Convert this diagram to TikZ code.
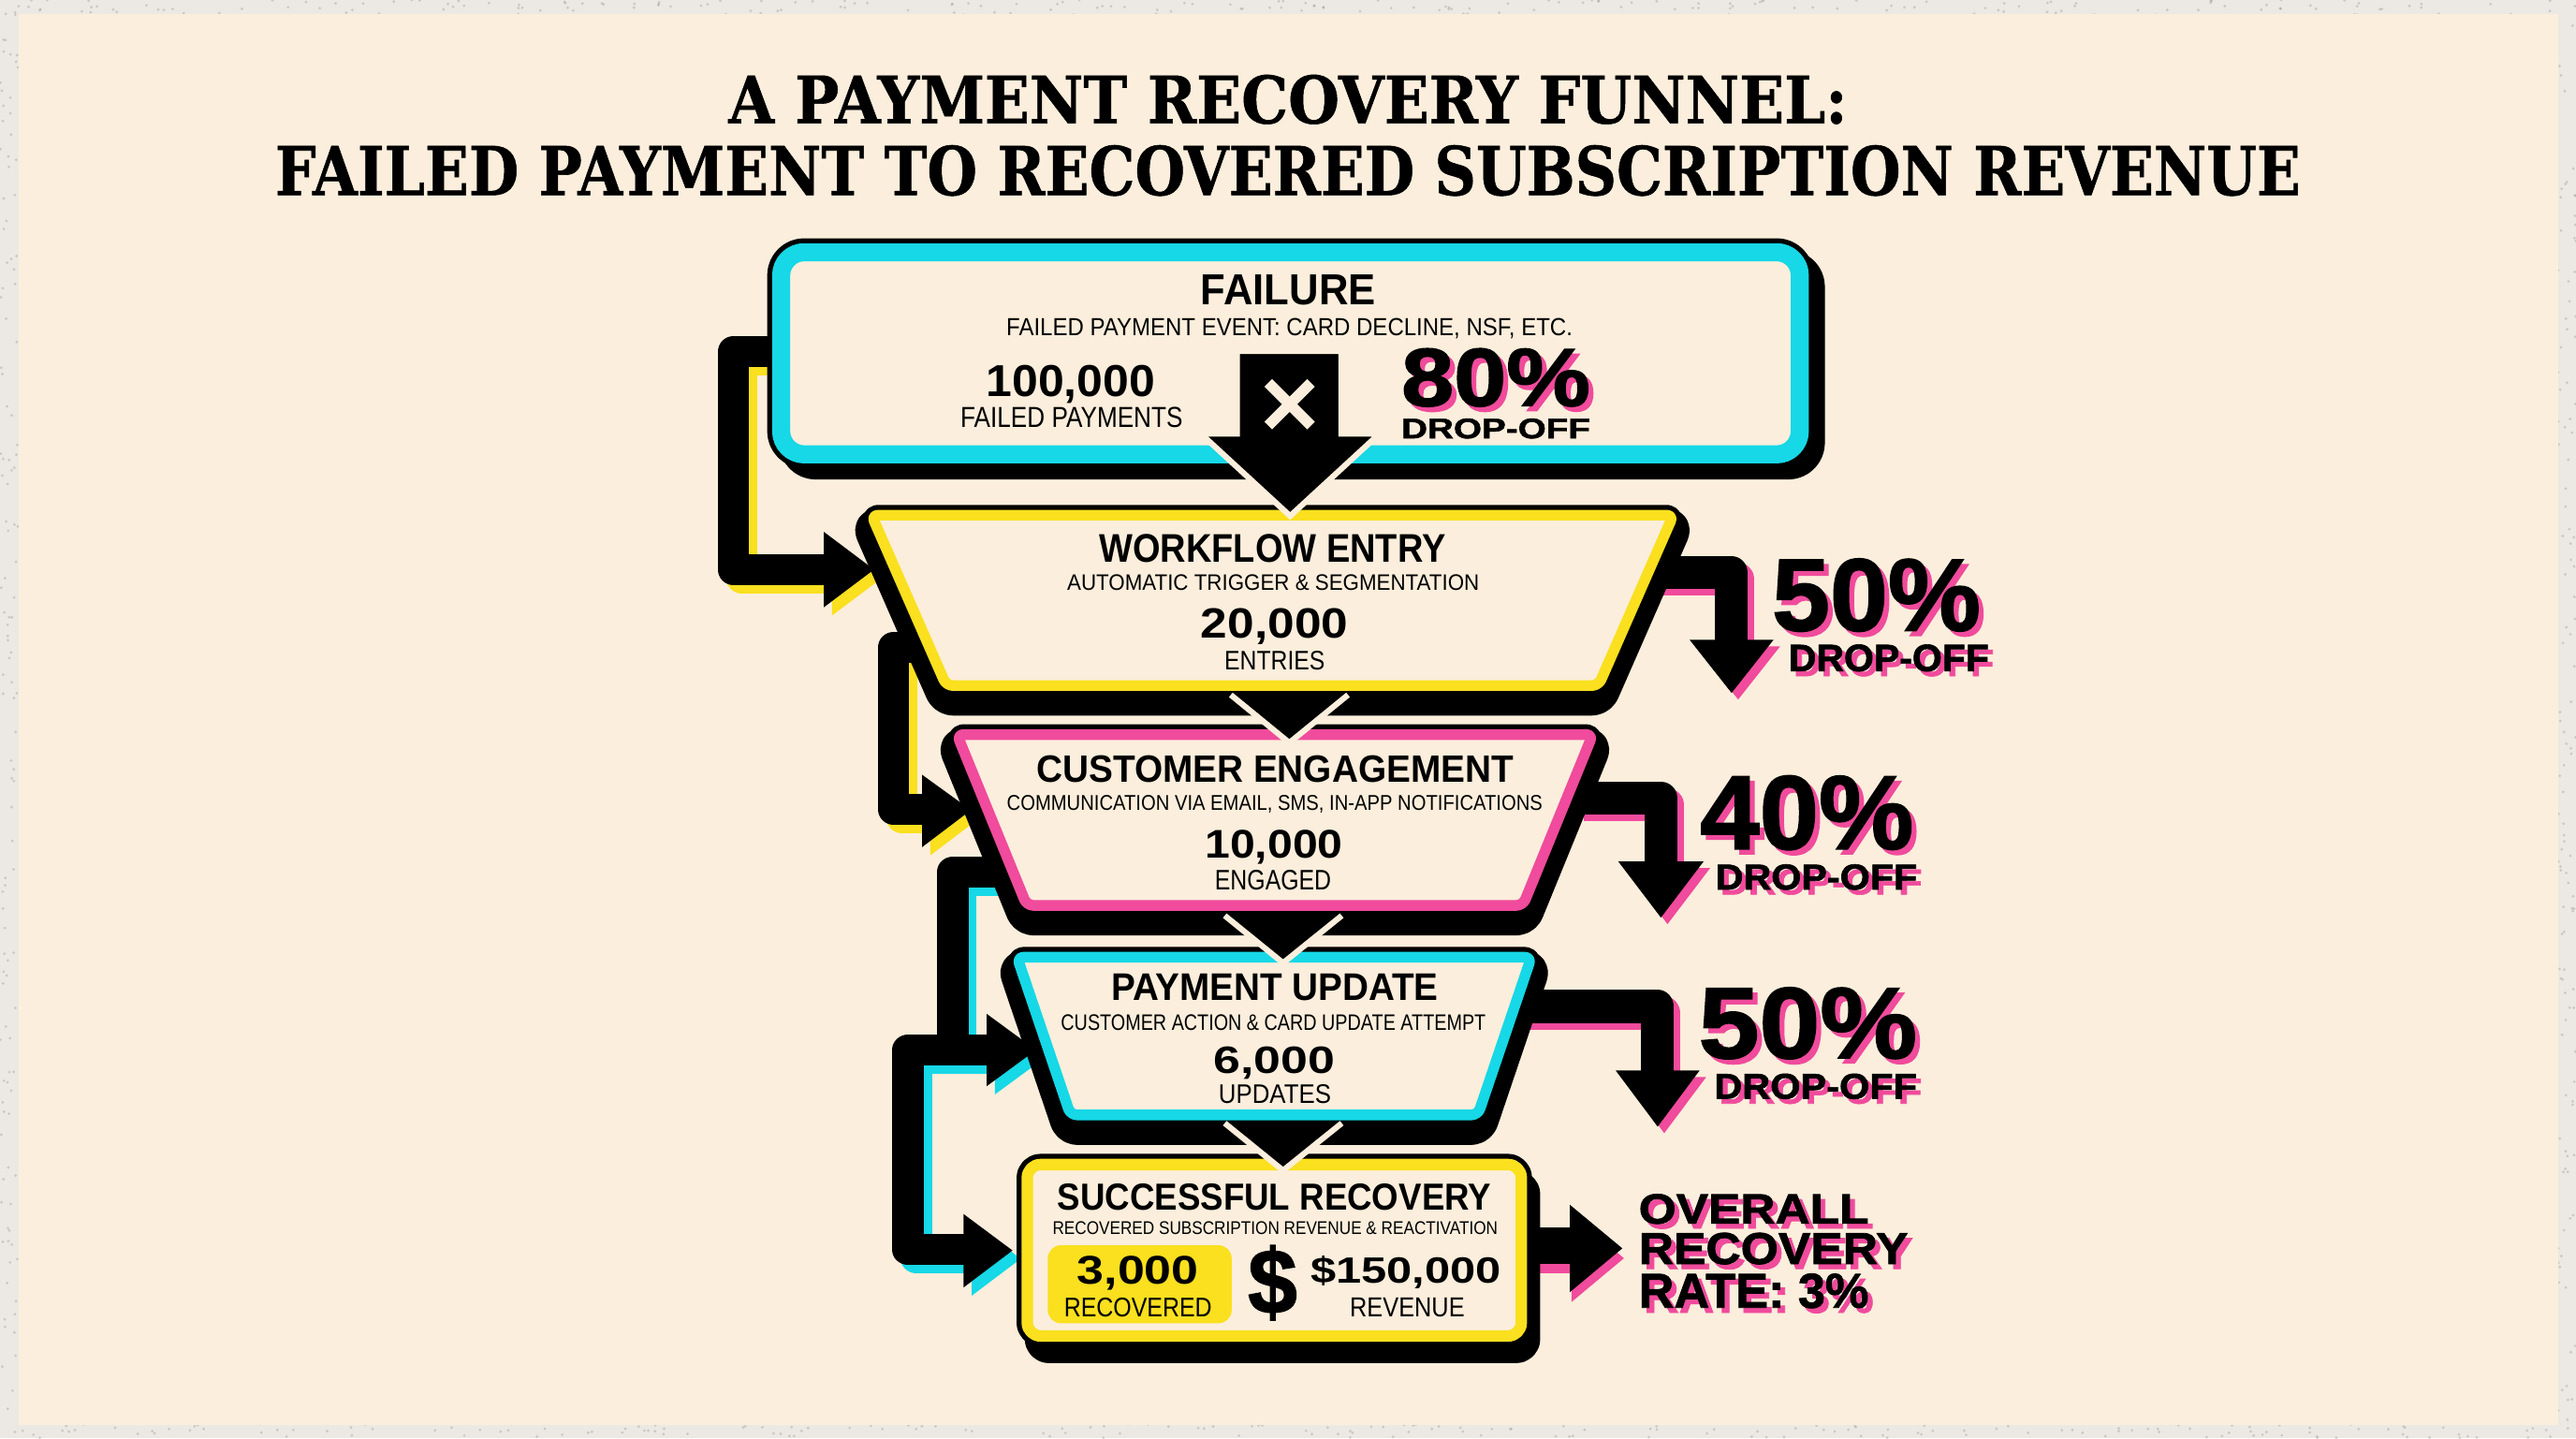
\documentclass[tikz,border=0pt]{standalone}
\usepackage{graphicx}
\usepackage{fontspec}
\setmainfont{Liberation Sans}
\newfontfamily\titlefont[FakeBold=0.8]{DejaVu Serif Bold}
\newfontfamily\heavyfont[FakeBold=1.5]{Liberation Sans Bold}
\usetikzlibrary{calc}
\newdimen\dpx \dpx=0.01755cm
\newcommand\fitbx[3]{\resizebox{#1\dpx}{#2\dpx}{#3}}
\definecolor{cream}{HTML}{FBEEDC}
\definecolor{framec}{HTML}{ECE8E3}
\definecolor{cy}{HTML}{16D8E6}
\definecolor{yl}{HTML}{FAE01E}
\definecolor{pk}{HTML}{F04B9C}
% #1 path, #2 colour, #3 border, #4 shadow extra, #5 #6 shadow shift, #7 opts
\newcommand\drawbox[7]{%
  \path[#7, fill=black, draw=black, line width=#3\dpx+#4\dpx, line join=round, shift={(#5,#6)}] #1;
  \path[#7, draw=black, line width=#3\dpx+6\dpx, line join=round] #1;
  \path[#7, draw=#2, fill=cream, line width=#3\dpx, line join=round] #1;}
% #1 name, #2 x, #3 baseline, #4 width, #5 height, #6 text  (pink drop shadow inside one node)
\newcommand\pinkstat[6]{%
  \node[stat] (#1) at (#2,#3) {\makebox[0pt][l]{\hspace*{3\dpx}\raisebox{-3\dpx}{\textcolor{pk}{\fitbx{#4}{#5}{\heavyfont #6}}}}\fitbx{#4}{#5}{\heavyfont #6}};}
\begin{document}
\begin{tikzpicture}[x=0.01755cm, y=-0.01755cm,
  txt/.style={inner sep=0, outer sep=0, anchor=base},
  stat/.style={inner sep=0, outer sep=0, anchor=base west},
  lconn/.style={line width=19\dpx, line join=round},
  rconn/.style={line width=20\dpx, line join=round},
  vline/.style={draw=cream, line width=3.5\dpx, line join=miter},
  speck/.style={fill=gray, opacity=0.3}]
\useasboundingbox (0,0) rectangle (1568,875.2);
% background
\fill[framec] (0,0) rectangle (1568,875.2);
\pgfmathsetseed{11}
\foreach \k in {1,...,200}{\fill[speck] (rnd*1568, rnd*9) circle (0.9);}
\foreach \k in {1,...,200}{\fill[speck] (rnd*1568, 866+rnd*9) circle (0.9);}
\foreach \k in {1,...,120}{\fill[speck] (rnd*11, rnd*875) circle (0.9);}
\foreach \k in {1,...,120}{\fill[speck] (1557+rnd*11, rnd*875) circle (0.9);}
\fill[cream] (11.4,8.5) rectangle (1557,867);

% title
\node[txt] (title1) at (784,75) {\fitbx{681}{29.5}{\titlefont A PAYMENT RECOVERY FUNNEL:}};
\node[txt] (title2) at (784,118.7) {\fitbx{1233}{30.4}{\titlefont FAILED PAYMENT TO RECOVERED SUBSCRIPTION REVENUE}};

% ---------- connectors: accents first ----------
\begin{scope}[shift={(5,5)}]
  \draw[lconn, cy] (585,639) -- (552.7,639) -- (552.7,760.5) -- (588,760.5);
  \fill[cy] (586.5,738.8) -- (616.3,761) -- (586.5,783.5) -- cycle;
  \draw[lconn, cy] (620,530.6) -- (580,530.6) -- (580,639) -- (602,639);
  \fill[cy] (600.6,617) -- (630.6,639) -- (600.6,661) -- cycle;
  \draw[lconn, yl] (578,394) -- (544,394) -- (544,492.5) -- (563,492.5);
  \fill[yl] (561.3,471.5) -- (591,493) -- (561.3,515.5) -- cycle;
  \draw[lconn, yl] (500,214) -- (446.5,214) -- (446.5,346.6) -- (503,346.6);
  \fill[yl] (501.4,323.6) -- (532,346.6) -- (501.4,369.6) -- cycle;
\end{scope}
\begin{scope}[shift={(4,4)}]
  \draw[rconn, pk] (1000,348.5) -- (1054,348.5) -- (1054,391);
  \fill[pk] (1028.5,389.4) -- (1079.5,389.4) -- (1054,421.7) -- cycle;
  \draw[rconn, pk] (960,485.8) -- (1011,485.8) -- (1011,526);
  \fill[pk] (985,524.2) -- (1037,524.2) -- (1011,558.4) -- cycle;
  \draw[rconn, pk] (920,612.5) -- (1009,612.5) -- (1009,653);
  \fill[pk] (983.5,651.5) -- (1034.5,651.5) -- (1009,685.6) -- cycle;
\end{scope}
\begin{scope}[shift={(1,6)}]
  \draw[line width=22\dpx, pk] (920,758) -- (957,758);
  \fill[pk] (955.6,733.2) -- (987.5,759.7) -- (955.6,786.3) -- cycle;
\end{scope}
% black connectors
\draw[lconn] (585,639) -- (552.7,639) -- (552.7,760.5) -- (588,760.5);
\fill (586.5,738.8) -- (616.3,761) -- (586.5,783.5) -- cycle;
\draw[lconn] (620,530.6) -- (580,530.6) -- (580,639) -- (602,639);
\fill (600.6,617) -- (630.6,639) -- (600.6,661) -- cycle;
\draw[lconn] (578,394) -- (544,394) -- (544,492.5) -- (563,492.5);
\fill (561.3,471.5) -- (591,493) -- (561.3,515.5) -- cycle;
\draw[lconn] (500,214) -- (446.5,214) -- (446.5,346.6) -- (503,346.6);
\fill (501.4,323.6) -- (532,346.6) -- (501.4,369.6) -- cycle;
\draw[rconn] (1000,348.5) -- (1054,348.5) -- (1054,391);
\fill (1028.5,389.4) -- (1079.5,389.4) -- (1054,421.7) -- cycle;
\draw[rconn] (960,485.8) -- (1011,485.8) -- (1011,526);
\fill (985,524.2) -- (1037,524.2) -- (1011,558.4) -- cycle;
\draw[rconn] (920,612.5) -- (1009,612.5) -- (1009,653);
\fill (983.5,651.5) -- (1034.5,651.5) -- (1009,685.6) -- cycle;
\draw[line width=22\dpx] (920,758) -- (957,758);
\fill (955.6,733.2) -- (987.5,759.7) -- (955.6,786.3) -- cycle;

% ---------- boxes ----------
\drawbox{(475.5,153.5) rectangle (1095.5,276.5)}{cy}{11}{5.6}{7}{7}{rounded corners=7pt}
\drawbox{(530.5,313.5) -- (1018.5,313.5) -- (973,417.2) -- (576,417.2) -- cycle}{yl}{6.5}{16}{0}{7}{rounded corners=2pt}
\drawbox{(582.5,447) -- (969.5,447) -- (927,551) -- (625,551) -- cycle}{pk}{6.5}{16}{0}{7}{rounded corners=2pt}
\drawbox{(619.1,582.5) -- (932.1,582.5) -- (899.6,678.5) -- (651.6,678.5) -- cycle}{cy}{6.5}{16}{0}{7}{rounded corners=2pt}
\drawbox{(625.3,708.7) rectangle (926,813)}{yl}{7}{6}{5}{10}{rounded corners=4pt}
\fill[yl, rounded corners=4pt] (637.8,757.8) rectangle (749.7,805.3);

% ---------- funnel arrows ----------
\filldraw[fill=black, draw=cream, line width=3.5\dpx, line join=miter]
  (753,213.7) -- (816.5,213.7) -- (816.5,264) -- (839.6,264) -- (785.3,314) -- (731,264) -- (753,264) -- cycle;
\draw[cream, line width=6.5\dpx] (772,233) -- (798,259) (798,233) -- (772,259);
\fill (753,426) -- (816.7,426) -- (784.8,452) -- cycle;
\draw[vline] ($(753,426)!-0.12!(784.8,452)$) -- (784.8,452) -- ($(816.7,426)!-0.12!(784.8,452)$);
\fill (749.3,560.3) -- (812.9,560.3) -- (781,586) -- cycle;
\draw[vline] ($(749.3,560.3)!-0.12!(781,586)$) -- (781,586) -- ($(812.9,560.3)!-0.12!(781,586)$);
\fill (749.3,686.6) -- (812.9,686.6) -- (781,712.3) -- cycle;
\draw[vline] ($(749.3,686.6)!-0.12!(781,712.3)$) -- (781,712.3) -- ($(812.9,686.6)!-0.12!(781,712.3)$);

% ---------- texts ----------
% failure
\node[txt] (failT) at (784.2,185.2) {\fitbx{106.4}{18.2}{\bfseries FAILURE}};
\node[txt] (failS) at (784.9,204.2) {\fitbx{344.6}{10.5}{FAILED PAYMENT EVENT: CARD DECLINE, NSF, ETC.}};
\node[txt] (failN) at (651.7,241.2) {\fitbx{102.8}{19}{\bfseries 100,000}};
\node[txt] (failL) at (652.3,260.2) {\fitbx{135.2}{12.3}{FAILED PAYMENTS}};
\pinkstat{failP}{853}{247}{115}{35}{80\%}
\node[stat] (failD) at (853,266.7) {\fitbx{115}{12}{\heavyfont DROP-OFF}};
% workflow
\node[txt] (wfT) at (774.5,341.9) {\fitbx{211}{17}{\bfseries WORKFLOW ENTRY}};
\node[txt] (wfS) at (775,359) {\fitbx{250.8}{9.5}{AUTOMATIC TRIGGER \& SEGMENTATION}};
\node[txt] (wfN) at (775.8,388.4) {\fitbx{89.6}{18}{\bfseries 20,000}};
\node[txt] (wfL) at (775.9,407.4) {\fitbx{61.1}{11.4}{ENTRIES}};
% engagement
\node[txt] (ceT) at (776.1,475.8) {\fitbx{290.6}{16.2}{\bfseries CUSTOMER ENGAGEMENT}};
\node[txt] (ceS) at (775.9,493.4) {\fitbx{326}{9.1}{COMMUNICATION VIA EMAIL, SMS, IN-APP NOTIFICATIONS}};
\node[txt] (ceN) at (775.4,522.3) {\fitbx{84}{17}{\bfseries 10,000}};
\node[txt] (ceL) at (774.9,541.3) {\fitbx{70.8}{12}{ENGAGED}};
% payment update
\node[txt] (puT) at (776,608.7) {\fitbx{199.2}{16.1}{\bfseries PAYMENT UPDATE}};
\node[txt] (puS) at (775.1,626.8) {\fitbx{258.6}{9.5}{CUSTOMER ACTION \& CARD UPDATE ATTEMPT}};
\node[txt] (puN) at (775.8,653.4) {\fitbx{74}{16.2}{\bfseries 6,000}};
\node[txt] (puL) at (776,671.4) {\fitbx{68.4}{11.4}{UPDATES}};
% success
\node[txt] (srT) at (775.7,736.5) {\fitbx{264}{16}{\bfseries SUCCESSFUL RECOVERY}};
\node[txt] (srS) at (776.2,751.2) {\fitbx{271}{7.8}{RECOVERED SUBSCRIPTION REVENUE \& REACTIVATION}};
\node[txt] (srN) at (692.7,781.6) {\fitbx{74}{17}{\bfseries 3,000}};
\node[txt] (srL) at (692.7,801.5) {\fitbx{90}{11.5}{RECOVERED}};
\node[inner sep=0, anchor=center] (srD) at (774.6,780.6) {\resizebox*{30\dpx}{45.6\dpx}{\heavyfont\$}};
\node[txt] (srR) at (855.7,780.6) {\fitbx{116}{16.5}{\bfseries\$150,000}};
\node[txt] (srRL) at (856.6,801.5) {\fitbx{69.8}{11.5}{REVENUE}};
% drop-off labels
\pinkstat{d1P}{1078.6}{383.7}{127}{43.7}{50\%}
\pinkstat{d1D}{1088.7}{408.4}{122}{16.2}{DROP-OFF}
\pinkstat{d2P}{1034.8}{516.6}{130}{44.6}{40\%}
\pinkstat{d2D}{1044.2}{541.3}{122.8}{15.3}{DROP-OFF}
\pinkstat{d3P}{1033.9}{643.9}{133}{43}{50\%}
\pinkstat{d3D}{1043.4}{668.6}{123.5}{15.2}{DROP-OFF}
\pinkstat{ov1}{997.5}{744.6}{140}{18}{OVERALL}
\pinkstat{ov2}{997.5}{769.2}{164}{19}{RECOVERY}
\pinkstat{ov3}{997.5}{795.8}{140}{20.8}{RATE: 3\%}
\end{tikzpicture}
\end{document}
